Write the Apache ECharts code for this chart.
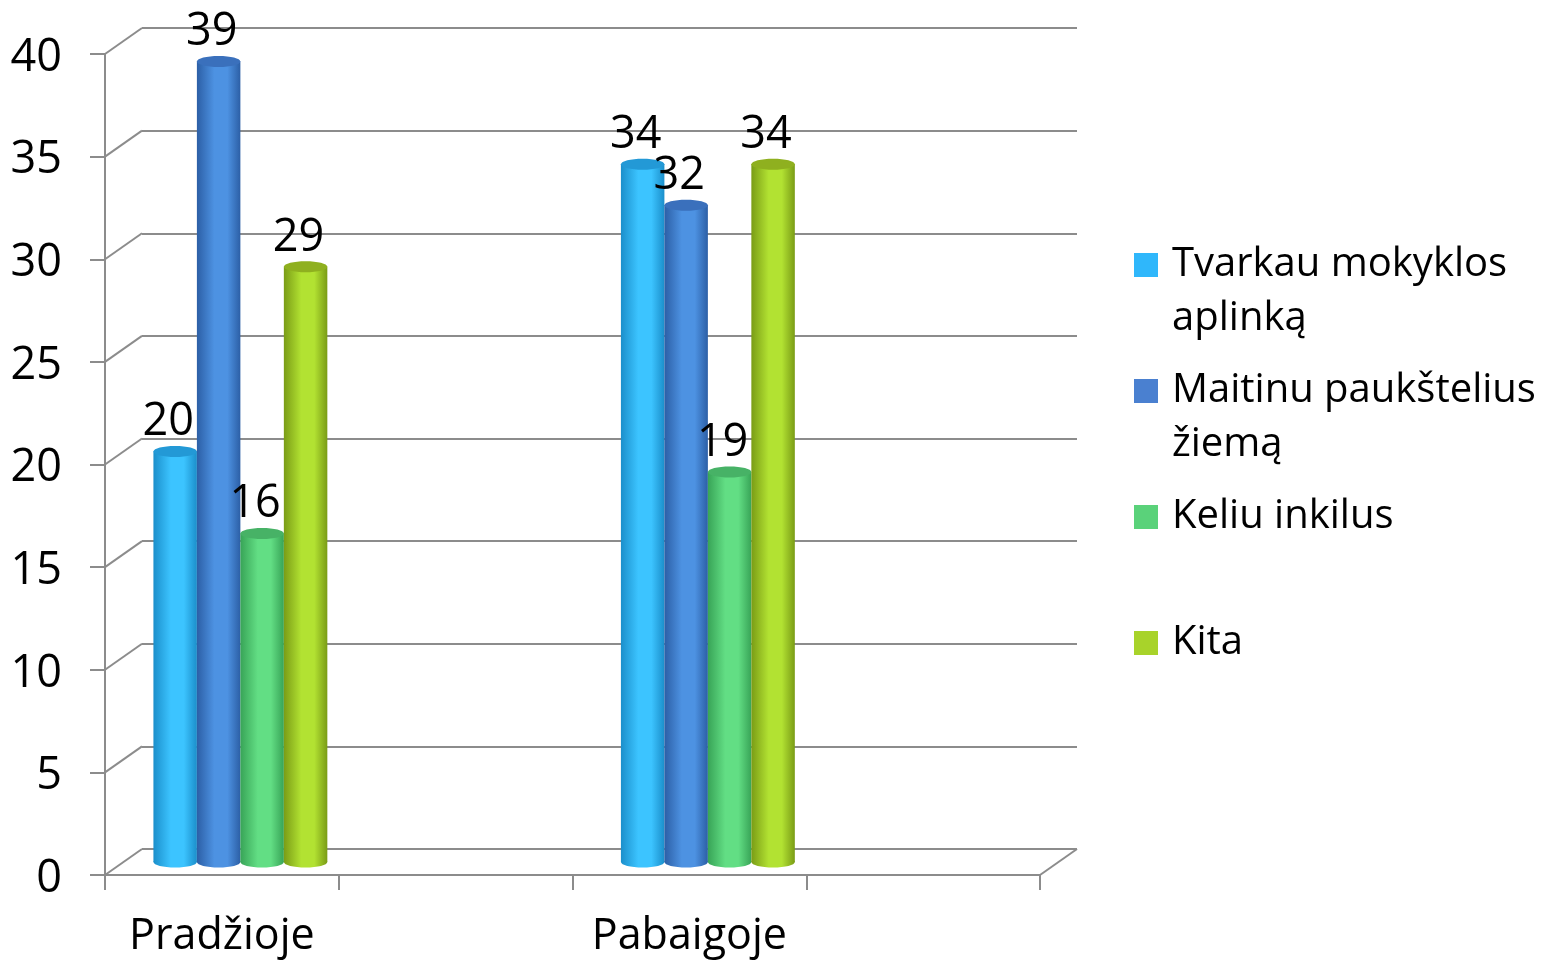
<!DOCTYPE html>
<html>
<head>
<meta charset="utf-8">
<script src="https://cdn.jsdelivr.net/npm/echarts@6/dist/echarts.min.js"></script>
<style>
html, body { margin: 0; padding: 0; background: #fff; }
#chart { width: 1558px; height: 960px; }
</style>
</head>
<body>
<div id="chart"></div>
<script>
// data
var categories = ['Pradžioje', '', 'Pabaigoje', ''];
var seriesNames = ['Tvarkau mokyklos aplinką', 'Maitinu paukštelius žiemą', 'Keliu inkilus', 'Kita'];
var tvarkau = [20, null, 34, null];
var maitinu = [39, null, 32, null];
var keliu = [16, null, 19, null];
var kita = [29, null, 34, null];
var yTicks = [0, 5, 10, 15, 20, 25, 30, 35, 40];
var legendLines = [['Tvarkau mokyklos', 'aplinką'], ['Maitinu paukštelius', 'žiemą'], ['Keliu inkilus'], ['Kita']];

var FONT = '"Open Sans", sans-serif';
var GRID = '#8c8c8c';
var DX = 37, DY = -26;   // depth of the 3d box

var palettes = [
    { legend: '#2fb7fb', light: '#3cc4ff', dark: '#1b8fcb', top: '#2399d6' },
    { legend: '#4a80d0', light: '#4d92e2', dark: '#2c5fa6', top: '#3a70bc' },
    { legend: '#5ad27a', light: '#62de84', dark: '#38a457', top: '#47b266' },
    { legend: '#a8d32a', light: '#b2e232', dark: '#7a9c16', top: '#8fb01f' }
];

function toPairs(values) {
    var out = [];
    values.forEach(function (v, i) { if (v != null) out.push([i, v]); });
    return out;
}

function cylinder(idx) {
    var pal = palettes[idx];
    return function (params, api) {
        var cat = api.value(0), val = api.value(1);
        var top = api.coord([cat, val]);
        var base = api.coord([cat, 0]);
        var band = api.size([1, 0])[0];
        var w = band * 0.186;
        var cx = top[0] + (idx - 1.5) * w + DX / 2;
        var yt = top[1] + DY / 2, yb = base[1] + DY / 2;
        var rx = w / 2, ry = 5.5;
        var body = {
            type: 'linear', x: 0, y: 0, x2: 1, y2: 0,
            colorStops: [
                { offset: 0, color: pal.dark },
                { offset: 0.4, color: pal.light },
                { offset: 0.7, color: pal.light },
                { offset: 1, color: pal.dark }
            ]
        };
        return {
            type: 'group',
            children: [
                { type: 'ellipse', shape: { cx: cx, cy: yb, rx: rx, ry: ry }, style: { fill: body } },
                { type: 'rect', shape: { x: cx - rx, y: yt, width: w, height: yb - yt }, style: { fill: body } },
                { type: 'ellipse', shape: { cx: cx, cy: yt, rx: rx, ry: ry }, style: { fill: pal.top } },
                {
                    type: 'text', z2: 100,
                    style: {
                        text: String(val), x: cx - 7, y: yt - 29,
                        align: 'center', verticalAlign: 'middle',
                        fontSize: 45, fontFamily: FONT, fill: '#000'
                    }
                }
            ]
        };
    };
}

var seriesData = [tvarkau, maitinu, keliu, kita];

var series = [{
    type: 'custom',
    name: 'walls',
    xAxisIndex: 0, yAxisIndex: 0,
    silent: true, z: 1,
    data: yTicks.map(function (v) { return [0, v]; }),
    renderItem: function (params, api) {
        var cs = params.coordSys;
        var y = api.coord([0, api.value(1)])[1];
        var ls = { stroke: GRID, lineWidth: 2 };
        var kids = [{ type: 'line', shape: { x1: cs.x, y1: y, x2: cs.x + DX, y2: y + DY }, style: ls }];
        if (api.value(1) === 0) {
            kids.push({ type: 'line', shape: { x1: cs.x + cs.width, y1: y, x2: cs.x + cs.width + DX, y2: y + DY }, style: ls });
        }
        return { type: 'group', children: kids };
    }
}];

seriesData.forEach(function (vals, i) {
    series.push({
        type: 'custom',
        name: seriesNames[i],
        xAxisIndex: 0, yAxisIndex: 0,
        z: 3,
        itemStyle: { color: palettes[i].legend },
        data: toPairs(vals),
        renderItem: cylinder(i)
    });
});

var chart = echarts.init(document.getElementById('chart'));
chart.setOption({
    backgroundColor: '#fff',
    animation: false,
    grid: [
        { left: 105, right: 518, top: 54, bottom: 85, outerBoundsMode: 'none' },
        { left: 105 + DX, right: 518 - DX, top: 54 + DY, bottom: 85 - DY, outerBoundsMode: 'none' }
    ],
    xAxis: [{
        gridIndex: 0,
        type: 'category',
        data: categories,
        boundaryGap: true,
        axisLine: { show: true, lineStyle: { color: GRID, width: 2 } },
        axisTick: { show: true, length: 15, interval: 0, lineStyle: { color: GRID, width: 2 } },
        axisLabel: { interval: 0, margin: 40, fontSize: 43, color: '#000', fontFamily: FONT },
        splitLine: { show: false }
    }, {
        gridIndex: 1,
        type: 'category',
        data: categories,
        show: false
    }],
    yAxis: [{
        gridIndex: 0,
        type: 'value',
        min: 0, max: 40, interval: 5,
        axisLine: { show: true, lineStyle: { color: GRID, width: 2 } },
        axisTick: { show: true, length: 15, lineStyle: { color: GRID, width: 2 } },
        axisLabel: {
            margin: 43, color: '#000',
            formatter: '{v|{value}}',
            rich: { v: { fontSize: 45, fontFamily: FONT, color: '#000', padding: [8, 0, 0, 0] } }
        },
        splitLine: { show: false }
    }, {
        gridIndex: 1,
        type: 'value',
        min: 0, max: 40, interval: 5,
        axisLine: { show: false },
        axisTick: { show: false },
        axisLabel: { show: false },
        splitLine: { show: true, lineStyle: { color: GRID, width: 2 } }
    }],
    legend: seriesNames.map(function (name, i) {
        return {
            data: [name],
            left: 1134,
            top: 181 + i * 126,
            orient: 'vertical',
            padding: 0,
            icon: 'rect',
            itemWidth: 24,
            itemHeight: 24,
            selectedMode: false,
            formatter: function () {
                var lines = legendLines[i];
                return '\n' + lines[0] + '\n' + (lines[1] || '');
            },
            textStyle: {
                fontSize: 40, lineHeight: 54, color: '#000', fontFamily: FONT,
                padding: [6, 0, 0, 9]
            }
        };
    }),
    series: series
});
</script>
</body>
</html>
